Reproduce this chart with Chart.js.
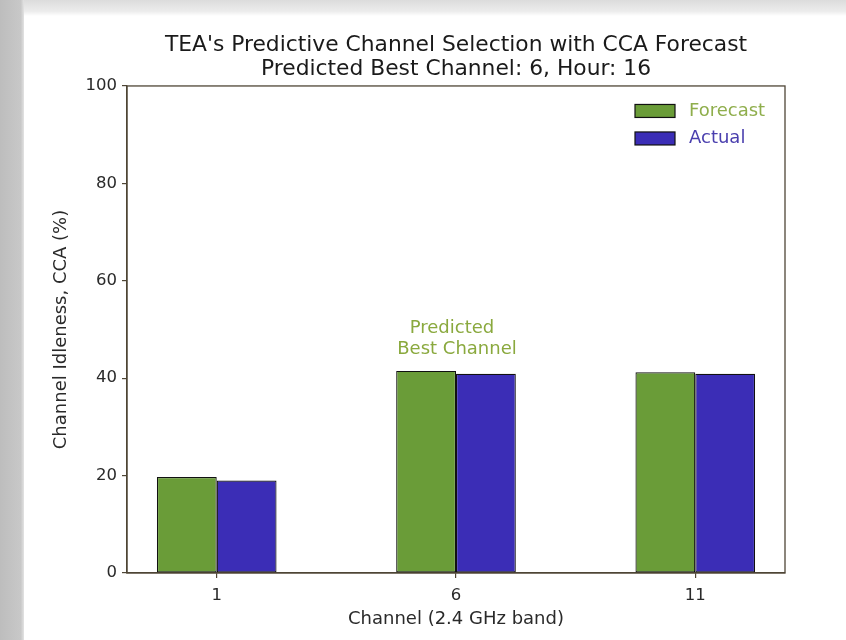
<!DOCTYPE html>
<html>
<head>
<meta charset="utf-8">
<script src="https://cdn.jsdelivr.net/npm/chart.js@4/dist/chart.umd.min.js"></script>
<style>
  html, body { margin: 0; padding: 0; background: #ffffff; }
  #wrap { position: relative; width: 846px; height: 640px; }
</style>
</head>
<body>
<div id="wrap"><canvas id="c"></canvas></div>
<script>
// ---- data ----
const channels = ['1', '6', '11'];
const seriesNames = ['Forecast', 'Actual'];
const forecastCCA = [19.7, 41.5, 41.2];
const actualCCA = [19.0, 40.9, 40.9];
const yTicks = [0, 20, 40, 60, 80, 100];
const titleLines = ["TEA's Predictive Channel Selection with CCA Forecast", 'Predicted Best Channel: 6, Hour: 16'];
const annotationLines = ['Predicted', 'Best Channel'];
const annotationIndex = 1;   // channel 6
const annotationValue = 48;  // data y of annotation

const FONT = "'DejaVu Sans', sans-serif";
const GREEN = '#6a9c38';
const BLUE = '#3b2db6';
const AXIS = '#4f4636';

const pageBg = {
  id: 'pageBg',
  beforeDraw(chart) {
    const ctx = chart.ctx;
    ctx.save();
    ctx.fillStyle = '#ffffff';
    ctx.fillRect(0, 0, chart.width, chart.height);
    let g = ctx.createLinearGradient(0, 0, 0, 16);
    g.addColorStop(0, '#dcdcdc');
    g.addColorStop(0.7, '#ececec');
    g.addColorStop(1, '#ffffff');
    ctx.fillStyle = g;
    ctx.fillRect(0, 0, chart.width, 16);
    g = ctx.createLinearGradient(0, 0, 26, 0);
    g.addColorStop(0, '#bdbdbd');
    g.addColorStop(0.8, '#c8c8c8');
    g.addColorStop(1, '#f4f4f4');
    ctx.fillStyle = g;
    ctx.fillRect(0, 0, 24, chart.height);
    ctx.restore();
  }
};

const frameAndExtras = {
  id: 'frameAndExtras',
  afterDraw(chart) {
    const ctx = chart.ctx;
    const a = chart.chartArea;
    const xs = chart.scales.x, ys = chart.scales.y;
    ctx.save();
    // frame
    ctx.strokeStyle = AXIS;
    ctx.lineWidth = 1.3;
    ctx.strokeRect(a.left, a.top, a.right - a.left, a.bottom - a.top);
    // annotation
    ctx.fillStyle = '#8aa93e';
    ctx.font = '18px ' + FONT;
    ctx.textAlign = 'center';
    ctx.textBaseline = 'middle';
    const ax = xs.getPixelForValue(annotationIndex);
    const ay = ys.getPixelForValue(annotationValue);
    ctx.fillText(annotationLines[0], ax - 4, ay - 11);
    ctx.fillText(annotationLines[1], ax + 1, ay + 10);
    // legend
    const colors = [GREEN, BLUE];
    const textColors = ['#8fae4c', '#4a3fae'];
    const bx = a.right - 150, by0 = a.top + 18.5;
    ctx.textAlign = 'left';
    seriesNames.forEach((name, i) => {
      const by = by0 + i * 27.5;
      ctx.fillStyle = colors[i];
      ctx.fillRect(bx, by, 40, 13);
      ctx.strokeStyle = '#111';
      ctx.lineWidth = 1.2;
      ctx.strokeRect(bx, by, 40, 13);
      ctx.fillStyle = textColors[i];
      ctx.fillText(name, bx + 54, by + 6.5);
    });
    ctx.restore();
  }
};

const mkData = (arr) => arr.map((v, i) => ({ x: i, y: v }));

new Chart(document.getElementById('c'), {
  type: 'bar',
  data: {
    datasets: [
      { label: seriesNames[0], data: mkData(forecastCCA), backgroundColor: GREEN, borderColor: '#111', borderWidth: 1.2, borderSkipped: false },
      { label: seriesNames[1], data: mkData(actualCCA), backgroundColor: BLUE, borderColor: '#111', borderWidth: 1.2, borderSkipped: false }
    ]
  },
  plugins: [pageBg, frameAndExtras],
  options: {
    responsive: true,
    maintainAspectRatio: false,
    animation: false,
    devicePixelRatio: 1,
    categoryPercentage: 0.5,
    barPercentage: 1.0,
    layout: { padding: { left: 22, top: 12, right: 61, bottom: 0 } },
    plugins: {
      legend: { display: false },
      tooltip: { enabled: false },
      title: {
        display: true,
        fullSize: false,
        text: titleLines,
        color: '#1a1a1a',
        font: { family: FONT, size: 21.8, weight: 'normal', lineHeight: 1.1 },
        padding: { top: 21, bottom: 5 }
      }
    },
    scales: {
      x: {
        type: 'linear',
        offset: false,
        min: -0.375,
        max: 2.375,
        afterBuildTicks(scale) { scale.ticks = channels.map((c, i) => ({ value: i })); },
        afterFit(scale) { scale.height = 67; },
        ticks: {
          callback: (v) => channels[v],
          color: '#2a2a2a',
          font: { family: FONT, size: 16.5 },
          padding: 8,
          maxRotation: 0,
          autoSkip: false
        },
        grid: { display: true, offset: false, drawOnChartArea: false, drawTicks: true, tickLength: 5, color: AXIS, lineWidth: 1.2 },
        border: { display: true, color: AXIS, width: 1.3 },
        title: {
          display: true,
          text: 'Channel (2.4 GHz band)',
          color: '#2a2a2a',
          font: { family: FONT, size: 18 },
          padding: { top: 0, bottom: 10 }
        }
      },
      y: {
        min: 0,
        max: 100,
        afterBuildTicks(scale) { scale.ticks = yTicks.map(v => ({ value: v })); },
        afterFit(scale) { scale.width = 105; },
        ticks: {
          color: '#2a2a2a',
          font: { family: FONT, size: 16.5 },
          padding: 5
        },
        grid: { display: true, drawOnChartArea: false, drawTicks: true, tickLength: 5, color: AXIS, lineWidth: 1.2 },
        border: { display: true, color: AXIS, width: 1.3 },
        title: {
          display: true,
          text: 'Channel Idleness, CCA (%)',
          color: '#2a2a2a',
          font: { family: FONT, size: 18 },
          padding: { top: 29, bottom: 0 }
        }
      }
    }
  }
});
</script>
</body>
</html>
